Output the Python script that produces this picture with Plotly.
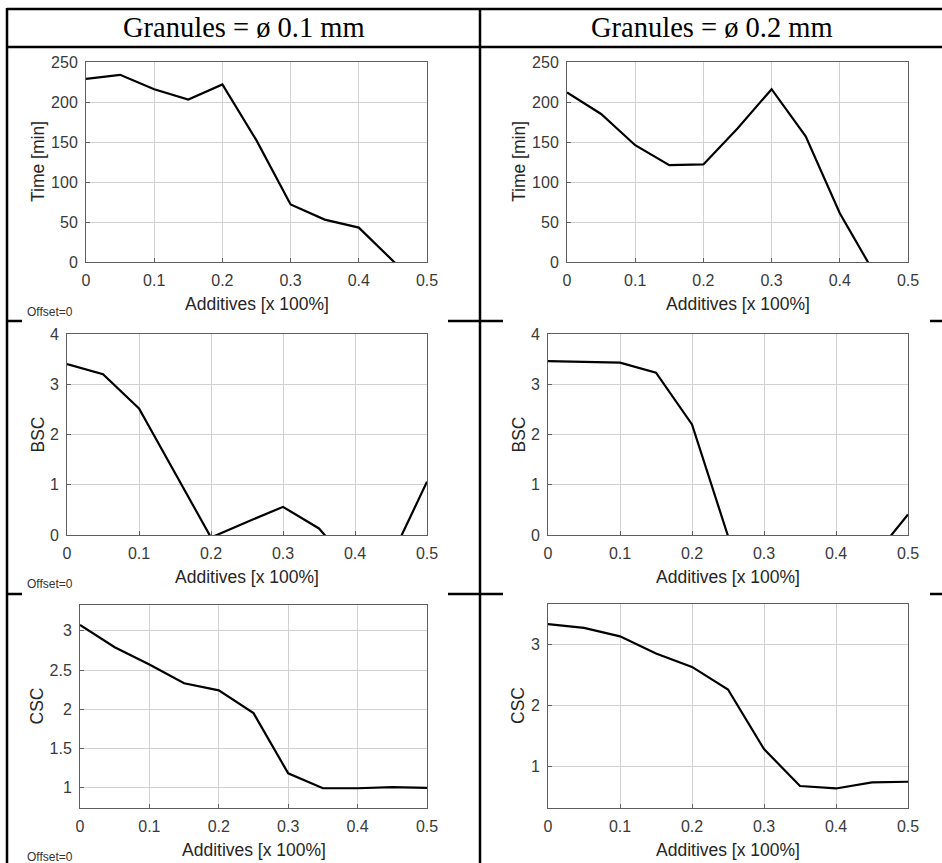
import plotly.graph_objects as go

# ---- data -------------------------------------------------------------
additives = [0.0, 0.05, 0.10, 0.15, 0.20, 0.25, 0.30, 0.35, 0.40, 0.45, 0.50]

time_01 = [229, 234, 216, 203, 222, 152, 72, 53, 43, 2, -40]
time_02 = [212, 185, 146, 121, 122, 167, 216, 157, 61, -13, -60]

bsc_01 = [3.40, 3.20, 2.52, 1.25, -0.05, 0.26, 0.56, 0.13, -0.70, -0.45, 1.06]
bsc_02 = [3.46, 3.45, 3.43, 3.23, 2.20, -0.02, -1.00, -1.50, -1.20, -0.48, 0.41]

csc_01 = [3.075, 2.79, 2.57, 2.33, 2.24, 1.95, 1.18, 0.99, 0.99, 1.005, 0.995]
csc_02 = [3.33, 3.27, 3.13, 2.85, 2.63, 2.26, 1.285, 0.68, 0.64, 0.74, 0.75]

column_titles = ["Granules = ø 0.1 mm", "Granules = ø 0.2 mm"]
x_label = "Additives [x 100%]"
x_ticks = [0, 0.1, 0.2, 0.3, 0.4, 0.5]
x_tick_text = ["0", "0.1", "0.2", "0.3", "0.4", "0.5"]

time_ticks = [0, 50, 100, 150, 200, 250]
bsc_ticks = [0, 1, 2, 3, 4]
csc_ticks_01 = [1, 1.5, 2, 2.5, 3]
csc_ticks_02 = [1, 2, 3]

# ---- layout helpers (pixel geometry of the page) ----------------------
W, H = 942, 863


def px(x):
    return x / W


def py(y):
    return 1 - y / H


# (series, y label, y range, y ticks, box left, box right, box top, box bottom, label x)
panels = [
    (time_01, "Time [min]", [0, 250], time_ticks, 86, 427, 62, 262, 38),
    (time_02, "Time [min]", [0, 250], time_ticks, 567, 908, 62, 262, 519),
    (bsc_01, "BSC", [0, 4], bsc_ticks, 67, 427, 334, 535, 37),
    (bsc_02, "BSC", [0, 4], bsc_ticks, 548, 908, 334, 535, 518),
    (csc_01, "CSC", [0.738, 3.33], csc_ticks_01, 80, 427, 605, 808, 36),
    (csc_02, "CSC", [0.32, 3.66], csc_ticks_02, 548, 908, 604, 808, 518),
]

fig = go.Figure()
annotations = []
tick_font = dict(family="Liberation Sans, Arial, sans-serif", size=16, color="#3a3a3a")
label_font = dict(family="Liberation Sans, Arial, sans-serif", size=17.5, color="#262626")

for i, (vals, ylab, yr, yt, x0, x1, y0, y1, lx) in enumerate(panels):
    n = i + 1
    xa = "x" if n == 1 else f"x{n}"
    ya = "y" if n == 1 else f"y{n}"
    fig.add_trace(go.Scatter(
        x=additives, y=vals, mode="lines",
        line=dict(color="black", width=2.2),
        xaxis=xa, yaxis=ya, showlegend=False, hoverinfo="skip",
    ))
    common = dict(
        showgrid=True, gridcolor="#d2d2d2", gridwidth=1,
        showline=True, linecolor="#5e5e5e", linewidth=1, mirror=True,
        ticks="inside", ticklen=4, tickcolor="#5e5e5e", automargin=False,
        zeroline=False, tickfont=tick_font, fixedrange=True,
    )
    fig.update_layout({
        f"xaxis{'' if n == 1 else n}": dict(
            domain=[px(x0), px(x1)], range=[0, 0.5], anchor=ya,
            tickmode="array", tickvals=x_ticks, ticktext=x_tick_text,
            ticklabelstandoff=4, **common),
        f"yaxis{'' if n == 1 else n}": dict(
            domain=[py(y1), py(y0)], range=yr, anchor=xa,
            tickmode="array", tickvals=yt, ticktext=[f"{v:g}" for v in yt],
            ticklabelstandoff=4, **common),
    })
    # axis titles
    annotations.append(dict(
        text=x_label, x=px((x0 + x1) / 2), y=py(y1 + 42), xref="paper", yref="paper",
        xanchor="center", yanchor="middle", showarrow=False, font=label_font))
    annotations.append(dict(
        text=ylab, x=px(lx), y=py((y0 + y1) / 2), xref="paper", yref="paper",
        xanchor="center", yanchor="middle", showarrow=False, textangle=-90,
        font=label_font))

# column headers
for cx, title in zip([244, 712], column_titles):
    annotations.append(dict(
        text=title, x=px(cx), y=py(28), xref="paper", yref="paper",
        xanchor="center", yanchor="middle", showarrow=False,
        font=dict(family="Liberation Serif, Times New Roman, serif", size=28.5, color="black")))

# offset notes in the left column
for oy in [312, 584, 857]:
    annotations.append(dict(
        text="Offset=0", x=px(25), y=py(oy), xref="paper", yref="paper",
        xanchor="left", yanchor="middle", showarrow=False,
        font=dict(family="Liberation Sans, Arial, sans-serif", size=12, color="#333333")))

# table rules
rule = dict(color="black", width=2.5)
shapes = [
    dict(type="line", xref="paper", yref="paper", x0=px(7), x1=px(W), y0=py(9), y1=py(9), line=rule),
    dict(type="line", xref="paper", yref="paper", x0=px(7), x1=px(W), y0=py(47), y1=py(47), line=rule),
    dict(type="line", xref="paper", yref="paper", x0=px(7), x1=px(7), y0=py(8), y1=py(H), line=rule),
    dict(type="line", xref="paper", yref="paper", x0=px(480), x1=px(480), y0=py(8), y1=py(H), line=rule),
]
for ry in [321, 594]:
    for a, b in [(7, 22), (448, 503), (930, W)]:
        shapes.append(dict(type="line", xref="paper", yref="paper",
                           x0=px(a), x1=px(b), y0=py(ry), y1=py(ry), line=rule))

fig.update_layout(
    width=W, height=H, margin=dict(l=0, r=0, t=0, b=0, pad=0), autosize=False,
    paper_bgcolor="white", plot_bgcolor="white",
    annotations=annotations, shapes=shapes, showlegend=False,
)

fig.write_html("out.html")
